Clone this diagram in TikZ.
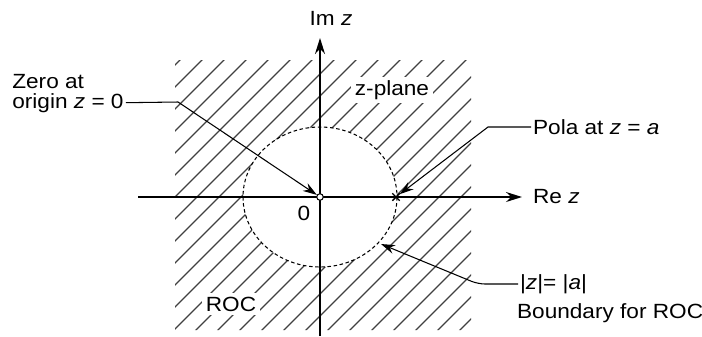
\documentclass[tikz,border=0pt]{standalone}
\usepackage{fontspec}
\setmainfont{Liberation Sans}[FakeStretch=1.1]
\usetikzlibrary{arrows.meta,shapes.misc}

\begin{document}
\begin{tikzpicture}[x=0.02cm, y=-0.02cm,
    txt/.style={font=\fontsize{11.7}{14}\selectfont, inner sep=1pt},
    axis/.style={line width=0.8pt, -{Stealth[length=3.2mm,width=2mm]}},
    hatch/.style={line width=0.65pt, black!75},
    leader/.style={line width=0.6pt, -{Stealth[length=2.8mm,width=1.8mm]}},
    zeroMark/.style={circle, draw, fill=white, line width=0.6pt, inner sep=0pt, minimum size=0.13cm},
    poleMark/.style={cross out, draw, line width=0.8pt, inner sep=0pt, minimum size=0.12cm},
    bndLine/.style={dash pattern=on 2pt off 1.5pt, line width=0.6pt}
]
\useasboundingbox (0,0) rectangle (702,336);

\begin{scope}[even odd rule]
    \clip (175,60) rectangle (471,330) (320,197) ellipse [x radius=77, y radius=70];
    \foreach \k in {240,262,...,820}
        \draw[hatch] (\k,0) -- ++(-340,340);
\end{scope}
\draw[bndLine] (320,197) ellipse [x radius=77, y radius=70];

\coordinate (reStart) at (138,197);
\coordinate (reEnd) at (522,197);
\coordinate (imStart) at (320,336);
\coordinate (imEnd) at (320,38);
\draw[axis] (reStart) -- (reEnd);
\draw[axis] (imStart) -- (imEnd);

\node[zeroMark] (origin) at (320,197) {};
\node[poleMark] (pole) at (396,197) {};
\coordinate (bnd) at (381,244);

\node[txt] (imLbl) at (331,18) {Im \textit{z}};
\node[txt, anchor=west] (reLbl) at (531,197) {Re \textit{z}};
\node[txt, fill=white, inner sep=2pt] (planeLbl) at (392,90) {z-plane};
\node[txt] (zeroVal) at (304,213) {0};
\node[txt, fill=white, inner sep=2pt] (rocLbl) at (231,304) {ROC};
\node[txt, anchor=base west, inner sep=0pt] (zeroA) at (12,88) {Zero at};
\node[txt, anchor=base west, inner sep=0pt] (zeroB) at (12,108) {origin \textit{z} = 0};
\node[txt, anchor=west] (poleLbl) at (531,127) {Pola at \textit{z} = \textit{a}};
\node[txt, anchor=west] (absLbl) at (518,284) {|\textit{z}|= |\textit{a}|};
\node[txt, anchor=west] (bndLbl) at (515,313) {Boundary for ROC};

\draw[leader] (zeroB.east) ++(2,0) -- (178,102) -- (origin);
\draw[leader] (poleLbl.west) -- (488,127) -- (pole);
\draw[leader, rounded corners=4pt] (absLbl.west) -- (478,284) -- (bnd);

\end{tikzpicture}
\end{document}
